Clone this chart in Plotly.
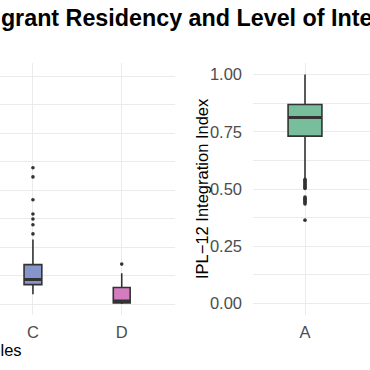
import plotly.graph_objects as go

# ---------------- data ----------------
categories = ["A", "B", "C", "D"]

# left panel (residency variable; its y labels lie outside the crop)
left_cats = ["C", "D"]
left_q1 = [3.4, 0.2]
left_median = [4.3, 0.5]
left_q3 = [6.9, 2.9]
left_lower = [1.7, 0.0]
left_upper = [11.3, 5.4]
left_outliers = {
    "C": [12.3, 13.9, 14.9, 15.8, 18.3, 22.3, 23.9],
    "D": [7.0],
}

# right panel (IPL-12 integration index)
right_cats = ["A"]
right_q1 = [0.731]
right_median = [0.812]
right_q3 = [0.869]
right_lower = [0.548]
right_upper = [1.0]
right_outliers = {
    "A": [0.542, 0.537, 0.532, 0.527, 0.522, 0.517, 0.512, 0.507, 0.502,
          0.465, 0.460, 0.455, 0.450, 0.445, 0.440, 0.435, 0.364],
}

right_ticks = [0.0, 0.25, 0.5, 0.75, 1.0]
right_ticktext = ["0.00", "0.25", "0.50", "0.75", "1.00"]
left_ticks = [0, 10, 20, 30, 40]

title_text = "Migrant Residency and Level of Integration"
y2_title = "IPL\u221212 Integration Index"
x_title = "Variables"

# ---------------- styles ----------------
colors = {"A": "#78BE9C", "B": "#F08C66", "C": "#8696CA", "D": "#D47CC0"}
box_width = {"A": 0.38, "B": 0.3, "C": 0.2, "D": 0.19}
EDGE = "#333333"
GRID = "#EBEBEB"
W, H = 370, 370
FONT = "Liberation Sans, Arial, sans-serif"

fig = go.Figure()


def add_panel(cats, q1, med, q3, lo, hi, outl, xa, ya):
    for i, c in enumerate(cats):
        fig.add_trace(go.Box(
            x=[c], q1=[q1[i]], median=[med[i]], q3=[q3[i]],
            lowerfence=[lo[i]], upperfence=[hi[i]],
            orientation="v", width=box_width[c],
            fillcolor=colors[c], line=dict(color=EDGE, width=1.6),
            boxpoints=False, whiskerwidth=0, showlegend=False,
            hoverinfo="skip", xaxis=xa, yaxis=ya))
        # thicker median line
        fig.add_trace(go.Box(
            x=[c], q1=[med[i]], median=[med[i]], q3=[med[i]],
            lowerfence=[med[i]], upperfence=[med[i]],
            orientation="v", width=box_width[c],
            fillcolor="rgba(0,0,0,0)", line=dict(color=EDGE, width=3.2),
            boxpoints=False, whiskerwidth=0, showlegend=False,
            hoverinfo="skip", xaxis=xa, yaxis=ya))
        pts = outl.get(c, [])
        fig.add_trace(go.Scatter(
            x=[c] * len(pts), y=pts, mode="markers",
            marker=dict(color=EDGE, size=3.6, line=dict(width=0)),
            showlegend=False, hoverinfo="skip", xaxis=xa, yaxis=ya))


add_panel(left_cats, left_q1, left_median, left_q3, left_lower, left_upper,
          left_outliers, "x", "y")
add_panel(right_cats, right_q1, right_median, right_q3, right_lower,
          right_upper, right_outliers, "x2", "y2")

top_px, bot_px = 63, 315
ydom = [(H - bot_px) / H, (H - top_px) / H]
tickfont = dict(family=FONT, size=16.5, color="#4D4D4D")

xcommon = dict(type="category", categoryorder="array",
               categoryarray=categories, showgrid=True, gridcolor=GRID,
               gridwidth=1.3, zeroline=False, showline=False, ticks="",
               tickfont=tickfont, ticklabelstandoff=5, fixedrange=True)

fig.update_layout(
    width=W, height=H,
    margin=dict(l=0, r=0, t=0, b=0),
    paper_bgcolor="white", plot_bgcolor="white",
    boxmode="overlay",
    xaxis=dict(domain=[0, 175 / W], range=[1.629, 3.6], anchor="y", **xcommon),
    xaxis2=dict(domain=[253 / W, 1], range=[-0.584, 0.73], anchor="y2",
                **xcommon),
    yaxis=dict(domain=ydom, range=[-1.93, 42.28], anchor="x",
               tickvals=left_ticks, showticklabels=False, showgrid=True,
               gridcolor=GRID, gridwidth=1.3, zeroline=False, ticks="",
               minor=dict(dtick=5, tick0=0, showgrid=True, gridcolor=GRID,
                          gridwidth=1.0),
               fixedrange=True),
    yaxis2=dict(domain=ydom, range=[-0.05, 1.05], anchor="x2",
                tickvals=right_ticks, ticktext=right_ticktext,
                showgrid=True, gridcolor=GRID, gridwidth=1.3, zeroline=False,
                ticks="", tickfont=tickfont, ticklabelstandoff=10,
                minor=dict(dtick=0.125, tick0=0, showgrid=True,
                           gridcolor=GRID, gridwidth=1.0),
                fixedrange=True),
    annotations=[
        dict(text="<b>" + title_text + "</b>", xref="paper", yref="paper",
             x=-26.9 / W, y=1 - 18 / H, xanchor="left", yanchor="middle",
             showarrow=False,
             font=dict(family=FONT, size=23.3, color="black")),
        dict(text=y2_title, xref="paper", yref="paper",
             x=202 / W, y=1 - 189 / H, xanchor="center", yanchor="middle",
             textangle=-90, showarrow=False,
             font=dict(family=FONT, size=16.5, color="black")),
        dict(text=x_title, xref="paper", yref="paper",
             x=24 / W, y=1 - 350 / H, xanchor="right", yanchor="middle",
             showarrow=False,
             font=dict(family=FONT, size=16.5, color="black")),
    ],
)

fig.write_html("out.html",
               config={"displayModeBar": False},
               post_script="document.body.style.margin='0';"
                           "document.body.style.overflow='hidden';")
